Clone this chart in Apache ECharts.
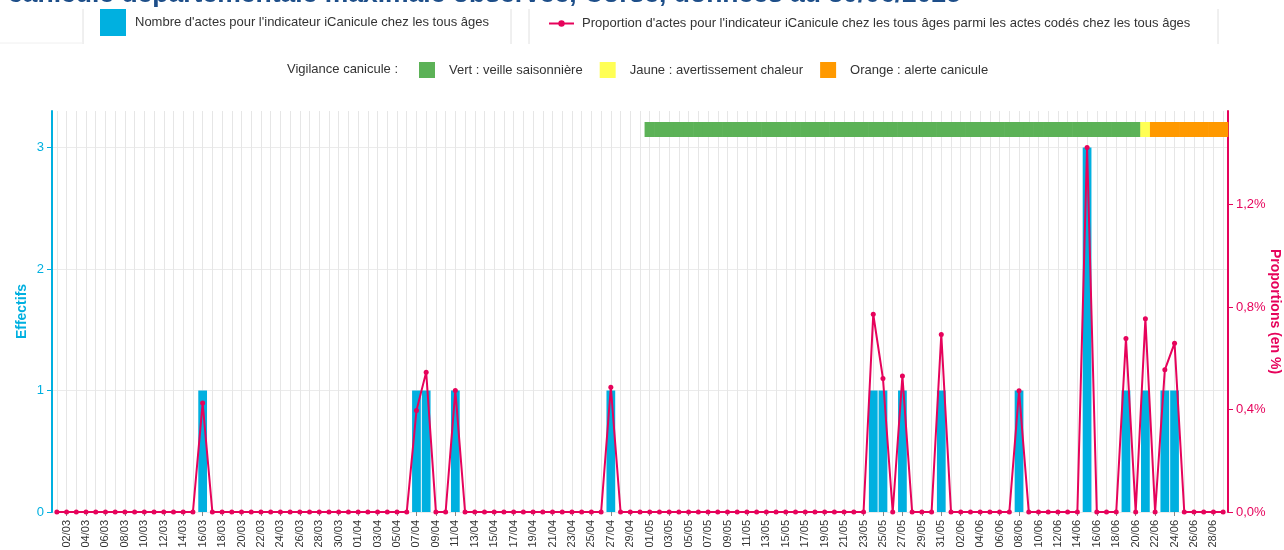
<!DOCTYPE html>
<html>
<head>
<meta charset="utf-8">
<script src="https://cdn.jsdelivr.net/npm/echarts@6/dist/echarts.min.js"></script>
<style>
  html, body { margin: 0; padding: 0; background: #fff; }
  #main { width: 1284px; height: 550px; }
</style>
</head>
<body>
<div id="main"></div>
<script>
  // --- données ---
  const titleText = 'canicule départementale maximale observée, Corse, données au 30/06/2025';
  const barName = "Nombre d'actes pour l'indicateur iCanicule chez les tous âges";
  const lineName = "Proportion d'actes pour l'indicateur iCanicule chez les tous âges parmi les actes codés chez les tous âges";

  // jours du 01/03 au 29/06
  const nbDays = 121;
  const dates = [];
  for (let i = 0; i < nbDays; i++) {
    const d = new Date(2025, 2, 1 + i);
    dates.push(String(d.getDate()).padStart(2, '0') + '/' + String(d.getMonth() + 1).padStart(2, '0'));
  }

  // jours non nuls (les autres sont à 0)
  const countByDay = {
    '16/03': 1, '07/04': 1, '08/04': 1, '11/04': 1, '27/04': 1,
    '24/05': 1, '25/05': 1, '27/05': 1, '31/05': 1, '08/06': 1,
    '15/06': 3, '19/06': 1, '21/06': 1, '23/06': 1, '24/06': 1
  };
  const propByDay = {
    '16/03': 0.425, '07/04': 0.396, '08/04': 0.546, '11/04': 0.474, '27/04': 0.487,
    '24/05': 0.772, '25/05': 0.521, '27/05': 0.531, '31/05': 0.693, '08/06': 0.473,
    '15/06': 1.423, '19/06': 0.677, '21/06': 0.754, '23/06': 0.555, '24/06': 0.659
  };
  const counts = dates.map(d => countByDay[d] || 0);
  const props = dates.map(d => propByDay[d] || 0);

  const countTicks = [0, 1, 2, 3];
  const propTicks = [0, 0.4, 0.8, 1.2];

  const vigilanceLevels = ['Vert : veille saisonnière', 'Jaune : avertissement chaleur', 'Orange : alerte canicule'];
  const vigilanceColors = ['#5cb257', '#ffff55', '#ff9900'];
  const vigilancePeriods = [
    ['01/05', '20/06', 0],
    ['21/06', '21/06', 1],
    ['22/06', '29/06', 2]
  ];

  const cyan = '#00b0e0';
  const pink = '#e6035b';
  const font = '"Liberation Sans", Arial, sans-serif';

  function vigilanceData(level) {
    const out = [];
    vigilancePeriods.forEach(p => {
      if (p[2] !== level) return;
      const a = dates.indexOf(p[0]), b = dates.indexOf(p[1]);
      for (let i = a; i <= b; i++) out.push([dates[i], 0]);
    });
    return out;
  }

  const vigilanceSeries = vigilanceLevels.map((name, k) => ({
    name: name,
    type: 'custom',
    xAxisIndex: 0,
    yAxisIndex: 0,
    z: 5,
    itemStyle: { color: vigilanceColors[k] },
    encode: { x: 0, y: 1 },
    data: vigilanceData(k),
    renderItem: function (params, api) {
      const x = api.coord([api.value(0), 0])[0];
      const w = api.size([1, 0])[0];
      return {
        type: 'rect',
        shape: { x: x - w / 2 - 0.3, y: params.coordSys.y + 11, width: w + 0.6, height: 15 },
        style: { fill: vigilanceColors[k] }
      };
    }
  }));

  const chart = echarts.init(document.getElementById('main'));
  chart.setOption({
    animation: false,
    textStyle: { fontFamily: font },
    title: {
      text: titleText,
      left: 3,
      top: -24,
      textStyle: { fontSize: 26.5, fontWeight: 'bold', color: '#1d4e89', fontFamily: font }
    },
    graphic: [
      { type: 'line', shape: { x1: 83, y1: 9, x2: 83, y2: 44 }, style: { stroke: '#e0e0e0', lineWidth: 1 } },
      { type: 'line', shape: { x1: 511, y1: 9, x2: 511, y2: 44 }, style: { stroke: '#e0e0e0', lineWidth: 1 } },
      { type: 'line', shape: { x1: 529, y1: 9, x2: 529, y2: 44 }, style: { stroke: '#e0e0e0', lineWidth: 1 } },
      { type: 'line', shape: { x1: 1218, y1: 9, x2: 1218, y2: 44 }, style: { stroke: '#e0e0e0', lineWidth: 1 } },
      { type: 'line', shape: { x1: 0, y1: 43, x2: 83, y2: 43 }, style: { stroke: '#f0f0f0', lineWidth: 1 } },
      {
        type: 'text', left: 287, top: 63,
        style: { text: 'Vigilance canicule :', font: '13px ' + font, fill: '#333' }
      }
    ],
    legend: [
      {
        data: [{ name: barName, icon: 'rect' }],
        left: 95, top: 4,
        itemWidth: 26, itemHeight: 27,
        textStyle: { fontSize: 13, color: '#333', padding: [0, 0, 0, 4] }
      },
      {
        data: [lineName],
        left: 543, top: 12,
        itemWidth: 25, itemHeight: 8,
        textStyle: { fontSize: 13, color: '#333', padding: [0, 0, 0, 3] }
      },
      {
        data: vigilanceLevels.map(n => ({ name: n, icon: 'rect' })),
        left: 414, top: 57,
        itemWidth: 16, itemHeight: 16, itemGap: 17,
        textStyle: { fontSize: 13, color: '#333', padding: [0, 0, 0, 9] }
      }
    ],
    grid: { left: 52, right: 56, top: 111, bottom: 38, outerBoundsMode: 'none', containLabel: false },
    xAxis: {
      type: 'category',
      data: dates,
      boundaryGap: true,
      axisLine: { show: false },
      axisTick: {
        show: true, alignWithLabel: true, length: 4,
        interval: (i) => i % 2 === 1,
        lineStyle: { color: '#888' }
      },
      axisLabel: {
        rotate: 90, fontSize: 11, color: '#333', margin: 8,
        interval: (i) => i % 2 === 1
      },
      splitLine: {
        show: true, interval: 0, alignWithLabel: true,
        lineStyle: { color: '#e6e6e6', width: 1 }
      }
    },
    yAxis: [
      {
        type: 'value',
        min: 0,
        max: Math.max(...counts) * 1.1,
        interval: 0.5,
        name: 'Effectifs',
        nameLocation: 'middle',
        nameGap: 23,
        nameMoveOverlap: false,
        nameTextStyle: { color: cyan, fontWeight: 'bold', fontSize: 14 },
        axisLine: { show: true, lineStyle: { color: cyan, width: 2 } },
        axisTick: { show: true, length: 5, customValues: countTicks, lineStyle: { color: cyan } },
        axisLabel: { color: cyan, fontSize: 13, margin: 8, customValues: countTicks },
        splitLine: { show: true, lineStyle: { color: '#ebebeb', width: 1 } }
      },
      {
        type: 'value',
        min: 0,
        max: Math.max(...props) * 1.1,
        position: 'right',
        name: 'Proportions (en %)',
        nameLocation: 'middle',
        nameGap: 40,
        nameRotate: -90,
        nameMoveOverlap: false,
        nameTextStyle: { color: pink, fontWeight: 'bold', fontSize: 14 },
        axisLine: { show: true, lineStyle: { color: pink, width: 2 } },
        axisTick: { show: true, length: 5, customValues: propTicks, lineStyle: { color: pink } },
        axisLabel: {
          color: pink, fontSize: 13, margin: 8, customValues: propTicks,
          formatter: (v) => v.toFixed(1).replace('.', ',') + '%'
        },
        splitLine: { show: false }
      }
    ],
    series: [
      {
        name: barName,
        type: 'bar',
        yAxisIndex: 0,
        data: counts,
        barWidth: '90%',
        itemStyle: { color: cyan },
        z: 2
      },
      {
        name: lineName,
        type: 'line',
        yAxisIndex: 1,
        data: props,
        symbol: 'circle',
        symbolSize: 5,
        lineStyle: { color: pink, width: 2 },
        itemStyle: { color: pink },
        z: 3
      }
    ].concat(vigilanceSeries)
  });
</script>
</body>
</html>
